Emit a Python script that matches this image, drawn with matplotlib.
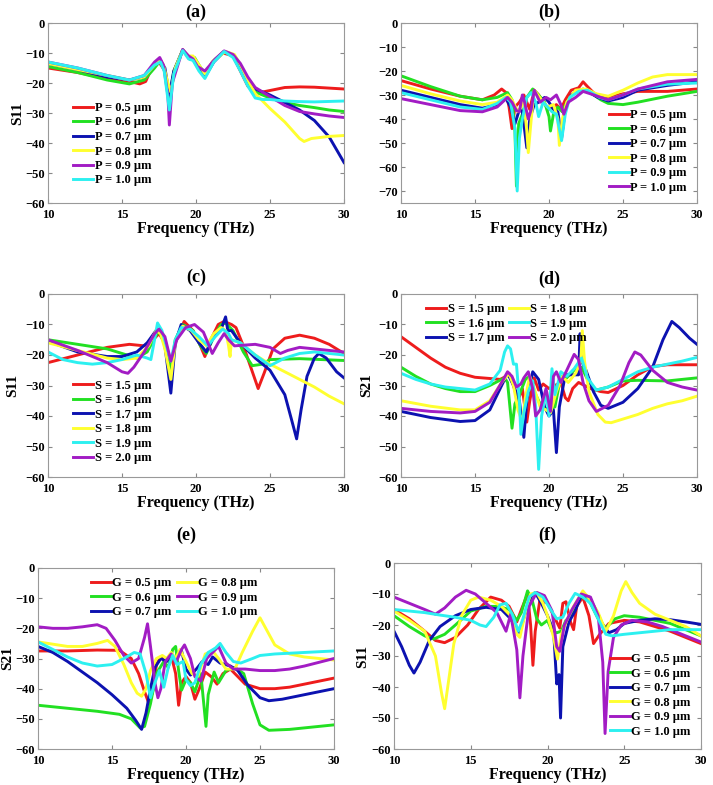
import matplotlib
matplotlib.use("Agg")
import matplotlib.pyplot as plt

plt.rcParams["font.family"] = ["Liberation Serif", "DejaVu Serif"]
plt.rcParams["font.weight"] = "bold"

# ---------------------------------------------------------------------------
# 데이터 (주파수 THz, dB) : 그림에서 눈으로 읽은 값
# ---------------------------------------------------------------------------

# (a) S11, P sweep
A_P05 = [(10, -15), (12, -16.5), (14, -18.5), (15.5, -19.5), (16.2, -20.3), (16.6, -19.5), (17, -15),
         (17.5, -13), (17.9, -16), (18.2, -25), (18.5, -17), (19.1, -9), (19.5, -11.5), (19.8, -12),
         (20.1, -14), (20.6, -17), (21.1, -13), (21.8, -10), (22.2, -10.5), (22.5, -11), (23, -16),
         (23.5, -21), (24, -23.5), (25, -22.5), (26, -21.5), (27, -21.3), (28, -21.4), (29, -21.7), (30, -22)]
A_P06 = [(10, -14.5), (12, -16.5), (14, -19), (15.5, -20.3), (16.5, -19), (17.2, -15), (17.6, -12.5),
         (17.9, -16), (18.2, -25), (18.5, -16), (19.1, -9), (19.6, -12), (19.9, -11.5), (20.2, -14),
         (20.6, -17), (21.2, -12.5), (21.9, -9.5), (22.5, -11), (23, -15), (23.5, -20), (24, -23),
         (25, -25), (26, -26.5), (27, -27.5), (28, -28.2), (29, -29), (30, -29.5)]
A_P07 = [(10, -13.5), (12, -15.5), (14, -18), (15.5, -19), (16.5, -18), (17.2, -14), (17.6, -12.5),
         (17.9, -15), (18.2, -24), (18.5, -16), (19.1, -9), (19.6, -12), (19.9, -12), (20.2, -15),
         (20.6, -18), (21.2, -13), (21.9, -9.5), (22.5, -11), (23, -15), (23.5, -19), (24, -22),
         (25, -24), (26, -26.5), (27, -29), (28, -32.5), (29, -38), (30, -46.5)]
A_P08 = [(10, -13.5), (12, -15.5), (14, -17.5), (15.5, -19), (16.5, -18), (17.2, -14), (17.6, -12.5),
         (17.8, -14), (18.1, -20), (18.3, -23), (18.6, -15), (19.1, -9), (19.5, -11), (19.8, -11),
         (20.2, -14), (20.6, -17), (21.2, -12.5), (22, -9.5), (22.6, -10.5), (23, -14), (23.5, -19),
         (24, -23.5), (24.5, -26), (25, -28.5), (26, -33), (27, -38.5), (27.3, -39.5), (27.8, -38.5),
         (29, -37.8), (30, -37.5)]
A_P09 = [(10, -13), (12, -15), (14, -17.5), (15.5, -19), (16.5, -17.5), (17.2, -13), (17.55, -11.5),
         (17.8, -14), (18.1, -24), (18.2, -34), (18.4, -20), (19.1, -8.8), (19.5, -11), (19.8, -12),
         (20.1, -14.5), (20.6, -16), (21.3, -12), (21.9, -9.3), (22.5, -10.5), (23, -13.5), (23.5, -18),
         (24, -21.5), (25, -24.5), (26, -27.5), (27, -29.5), (28, -30.3), (29, -31), (30, -31.5)]
A_P10 = [(10, -13), (12, -15), (14, -17.5), (15.5, -19), (16.5, -17.5), (17.2, -14), (17.6, -13),
         (17.85, -16), (18.2, -29), (18.5, -17), (19.1, -9.2), (19.5, -12), (19.8, -12.5), (20.2, -16),
         (20.6, -18.5), (21.2, -13), (21.9, -9.5), (22.5, -11.5), (23, -16), (23.5, -21), (24, -25),
         (24.5, -25.5), (25, -25.5), (26, -26), (27, -26.2), (28, -26.3), (30, -26)]

# (b) S11, P sweep
B_P05 = [(10, -24), (12, -27.5), (14, -30.5), (15.5, -32), (16.3, -30), (16.8, -27.5), (17.1, -29),
         (17.3, -35), (17.5, -44), (17.7, -35), (18, -33), (18.3, -30), (18.7, -36), (19, -28),
         (19.3, -30), (19.6, -33), (20, -36), (20.5, -34), (20.8, -36), (21.1, -32), (21.5, -28),
         (22, -27), (22.3, -24.5), (22.6, -26.5), (23, -29), (23.5, -31), (24, -31), (25, -29.5),
         (26, -28.5), (28, -28.5), (30, -27.5)]
B_P06 = [(10, -22), (12, -26.5), (14, -30.5), (15.5, -32), (16.5, -31), (17.2, -29), (17.5, -32),
         (17.7, -45), (17.8, -68), (17.95, -42), (18.2, -38), (18.5, -31), (18.9, -27.5), (19.3, -30),
         (19.7, -33), (20, -39), (20.1, -45), (20.3, -38), (20.6, -35), (20.9, -37), (21.2, -33),
         (21.7, -29), (22.3, -27.5), (22.8, -29), (23.5, -32), (24, -33.5), (25, -34), (26, -33),
         (28, -30.5), (30, -28.5)]
B_P07 = [(10, -28), (12, -31), (14, -34), (15.5, -35.5), (16.5, -34), (17.1, -31.5), (17.4, -35),
         (17.7, -42), (18, -36), (18.2, -37), (18.5, -52), (18.7, -40), (19, -34), (19.3, -33),
         (19.7, -31), (20, -33), (20.3, -36), (20.6, -37), (20.85, -48), (21.1, -36), (21.5, -30),
         (22, -28.5), (22.6, -28.5), (23.3, -31), (24, -32.5), (25, -31), (26, -28), (28, -26), (30, -24.5)]
B_P08 = [(10, -26), (12, -29.5), (14, -32.5), (15.5, -34), (16.5, -33), (17.2, -30), (17.5, -32),
         (17.9, -37), (18.3, -33), (18.5, -45), (18.6, -54), (18.8, -40), (19, -28), (19.5, -32),
         (19.9, -35), (20.3, -34), (20.6, -40), (20.7, -51), (20.9, -40), (21.2, -33), (21.8, -28),
         (22.5, -27.5), (23.2, -29.5), (24, -30.5), (25, -28), (26, -25), (27, -22.5), (28, -21.5), (30, -21.5)]
B_P09 = [(10, -29), (12, -32), (14, -35), (15.5, -36), (16.5, -33.5), (17.1, -31), (17.4, -33),
         (17.7, -44), (17.85, -70), (18, -48), (18.2, -40), (18.5, -31), (18.8, -29), (19.1, -33),
         (19.3, -39), (19.6, -33), (19.9, -35), (20.2, -37), (20.5, -38), (20.85, -49), (21.1, -38),
         (21.4, -31), (22, -28.5), (22.6, -28), (23.4, -31), (24, -32), (25, -30), (26, -27.5),
         (28, -25.5), (30, -25)]
B_P10 = [(10, -31.5), (12, -34), (14, -36.5), (15.5, -37), (16.5, -35), (17.2, -31), (17.5, -33),
         (17.8, -36.5), (18, -37), (18.2, -30), (18.35, -33), (18.6, -40), (18.8, -36), (19, -28),
         (19.4, -33), (19.8, -31), (20.1, -32), (20.5, -30), (20.8, -34), (21, -38), (21.3, -33),
         (21.8, -31), (22.3, -28.5), (22.8, -29.5), (23.5, -31), (24, -32), (25, -30), (26, -27.5),
         (28, -24.5), (30, -23.5)]

# (c) S11, S sweep
C_S15 = [(10, -22.5), (12, -20), (14, -17.5), (15.5, -16.5), (16.5, -17), (17, -15.5), (17.5, -13),
         (17.9, -16), (18.3, -26), (18.6, -16), (19.2, -9), (19.8, -12), (20.3, -17), (20.6, -20.5),
         (21, -15), (21.5, -10), (21.9, -9), (22.4, -10), (22.7, -11), (23.2, -17), (23.7, -24),
         (24.2, -31), (24.6, -26), (25.2, -18), (26, -14.5), (27, -13.5), (28, -14.5), (29, -16.5), (30, -19.5)]
C_S16 = [(10, -15), (12, -16.5), (14, -18), (15, -19.5), (16, -21), (16.7, -19), (17.2, -14.5),
         (17.5, -12), (17.9, -15), (18.3, -25), (18.6, -15), (19.1, -10), (19.8, -12), (20.3, -17),
         (20.7, -19.5), (21.2, -14), (21.7, -10), (22, -9.5), (22.5, -12), (23.2, -19), (23.8, -23.5),
         (24.5, -23), (25, -21.5), (27, -21.2), (30, -21.8)]
C_S17 = [(10, -15.5), (12, -19), (14, -20.5), (15, -20.5), (16, -19), (16.7, -16), (17.3, -12),
         (17.6, -12.5), (17.9, -17), (18.3, -32.5), (18.6, -16), (19, -10), (19.6, -12), (20.2, -16),
         (20.7, -19), (21.2, -14), (21.7, -11.5), (22, -7.5), (22.15, -12), (22.4, -12), (23, -16),
         (24, -21), (25, -25), (26, -33), (26.5, -42), (26.8, -47.5), (27.1, -38), (27.5, -27),
         (28, -21), (28.3, -19.5), (28.8, -21), (29.5, -25.5), (30, -27.5)]
C_S18 = [(10, -16), (12, -18.5), (14, -21), (15, -21.5), (16, -21), (16.8, -17), (17.3, -12),
         (17.6, -13), (17.9, -18), (18.3, -28), (18.6, -16), (19.1, -10.5), (19.7, -12), (20.2, -15),
         (20.7, -17), (21.2, -13), (21.7, -11), (22, -12), (22.2, -17), (22.3, -20.5), (22.4, -15),
         (23, -16), (24, -20), (25, -23), (26, -25.5), (27, -28), (28, -30.5), (29, -33.5), (30, -36)]
C_S19 = [(10, -19), (11, -21.5), (12, -22.5), (13, -23), (14, -22.5), (15, -21.5), (16, -20),
         (16.7, -21), (16.95, -21.5), (17.2, -15), (17.4, -9.5), (17.7, -12), (18, -17), (18.3, -22),
         (18.6, -15), (19, -11), (19.6, -11.5), (20.2, -14), (20.8, -17), (21.3, -14), (21.8, -11.5),
         (22.2, -13), (22.4, -15), (23, -16), (24, -20), (25, -23.5), (26, -21), (27, -19.5),
         (28, -19), (29, -19.5), (30, -20)]
C_S20 = [(10, -15), (12, -18.5), (14, -22.5), (15, -25.5), (15.4, -26), (15.8, -24), (16.5, -19),
         (17.2, -13), (17.5, -11.5), (17.9, -14), (18.3, -22), (18.7, -15), (19.3, -11), (19.9, -10),
         (20.5, -12.5), (21.1, -19.5), (21.5, -16), (21.9, -13), (22.2, -15), (22.6, -17), (24, -16.5),
         (25, -17.5), (25.7, -19.5), (26.2, -18.5), (27, -17.5), (28, -18), (30, -19)]

# (d) S21, S sweep
D_S15 = [(10, -14), (11, -17.5), (12, -21), (13, -24), (14, -26), (15, -27.3), (16, -27.7),
         (16.7, -28), (17.1, -27), (17.3, -26), (17.6, -30), (17.9, -35), (18.2, -31), (18.5, -42),
         (18.7, -35), (19, -27.5), (19.3, -31.5), (19.6, -29.5), (20, -31), (20.4, -30), (20.8, -29),
         (21.1, -34), (21.3, -35), (21.6, -31), (22, -29), (22.4, -30), (22.8, -31), (23.5, -32),
         (24, -32.3), (25, -30), (26, -26.5), (27, -23.8), (28, -23.2), (29, -23.2), (30, -23.2)]
D_S16 = [(10, -24), (11, -27), (12, -29.5), (13, -31), (14, -32), (15, -32), (16, -30), (16.6, -28.5),
         (17, -27.5), (17.2, -29), (17.5, -44), (17.7, -36), (18, -33), (18.4, -28), (18.7, -27),
         (19, -32), (19.5, -37), (20, -38), (20.4, -37), (20.8, -27), (21.2, -27.5), (21.7, -25),
         (22.2, -24), (22.7, -29), (23.2, -31.5), (24, -30.5), (25, -28.5), (26, -28.3), (28, -28.5), (30, -27.5)]
D_S17 = [(10, -38.5), (12, -40.5), (14, -41.8), (15, -41.5), (16, -38), (16.7, -31), (17.2, -26),
         (17.6, -30), (18, -35), (18.3, -47), (18.5, -35), (18.9, -25.5), (19.3, -28), (19.7, -37),
         (20, -40), (20.3, -38), (20.5, -52), (20.7, -37), (21.1, -26.5), (21.6, -26.5), (22, -26.5),
         (22.1, -13), (22.2, -22), (22.5, -25), (23, -32), (23.5, -36.5), (24, -37.5), (25, -35.5),
         (26, -31), (27, -24), (27.7, -15), (28.3, -9), (28.8, -11), (29.5, -14.5), (30, -16.5)]
D_S18 = [(10, -35), (12, -36.8), (14, -38), (15, -38), (16, -35), (16.8, -29), (17.3, -26),
         (17.6, -30), (17.9, -38), (18.2, -42), (18.4, -34), (18.7, -27), (19, -31), (19.4, -37),
         (19.8, -38), (20.1, -39), (20.5, -32), (20.9, -27), (21.3, -29), (21.8, -26), (22.15, -22),
         (22.25, -12), (22.4, -22), (22.7, -32), (23.3, -39.5), (23.8, -42), (24.2, -42.2), (25, -41),
         (26, -39.5), (27, -37.5), (28, -36), (29, -35), (30, -33.5)]
D_S19 = [(10, -26), (11, -28), (12, -29.5), (13, -30.5), (14, -31), (15, -31.5), (16, -29.5),
         (16.7, -25), (17, -19), (17.2, -17), (17.4, -18), (17.6, -23), (17.8, -23), (18, -35),
         (18.1, -46), (18.3, -39), (18.6, -32), (18.9, -28.5), (19.1, -37), (19.3, -57.5), (19.5, -40),
         (19.8, -32), (20, -40), (20.2, -24.5), (20.4, -33), (20.8, -25.5), (21.2, -27), (21.7, -24.5),
         (22.2, -21), (22.6, -27.5), (23.2, -31.5), (24, -30.5), (25, -28), (26, -25.5), (27, -24),
         (28, -23), (29, -22), (30, -20.8)]
D_S20 = [(10, -37.5), (12, -38.5), (14, -39), (15, -38.5), (16, -35.5), (16.8, -29), (17.2, -25.5),
         (17.5, -27), (17.8, -30.5), (18.1, -29.5), (18.3, -27.5), (18.6, -25.5), (18.9, -31),
         (19.1, -40), (19.4, -38), (19.8, -31), (20.1, -38.5), (20.3, -27), (20.5, -25.5), (20.8, -29),
         (21.2, -25), (21.7, -19.8), (22, -21.5), (22.3, -29), (22.7, -35), (23.2, -38.5), (24, -36.5),
         (24.8, -30), (25.4, -22.5), (25.8, -19), (26.2, -20), (27, -25), (28, -29), (29, -30.5), (30, -31.5)]

# (e) S21, G sweep
E_G05 = [(10, -27.5), (12, -27.5), (14, -27.2), (15.5, -27.3), (16.3, -30), (16.8, -35), (17.2, -41),
         (17.5, -45), (17.8, -40), (18, -32), (18.3, -29.5), (18.6, -31), (19, -29), (19.3, -35),
         (19.5, -45.5), (19.7, -38), (20, -36), (20.3, -38), (20.6, -43.5), (20.9, -40), (21.3, -34.5),
         (21.7, -36), (22.1, -38.5), (22.5, -35), (23, -33.5), (23.5, -36), (24, -38.5), (25, -40),
         (26, -40), (27, -39.5), (28, -38.5), (29, -37.5), (30, -36.5)]
E_G06 = [(10, -45.5), (12, -46.5), (14, -47.5), (15.5, -48.5), (16.3, -50), (16.9, -53), (17.2, -52.5),
         (17.6, -45), (18, -35), (18.5, -31), (18.8, -33), (19.1, -27), (19.3, -26), (19.5, -34),
         (19.7, -40.5), (20, -37), (20.3, -38), (20.6, -41), (21, -35), (21.2, -45), (21.35, -52.5),
         (21.5, -42), (21.9, -34.5), (22.2, -38), (22.7, -34), (23.3, -33), (23.9, -35), (24.5, -45),
         (25, -52), (25.6, -53.8), (27, -53.5), (28, -53), (30, -52)]
E_G07 = [(10, -26), (11, -28), (12, -31), (13, -34.5), (14, -38), (15, -42), (16, -46.5), (16.6, -50.5),
         (17, -53.5), (17.3, -48), (17.6, -40), (17.9, -33), (18.3, -30), (18.7, -31), (19, -28.5),
         (19.3, -30.5), (19.7, -27.5), (20, -33.5), (20.3, -35.5), (20.7, -33.5), (21.1, -31), (21.5, -32),
         (21.8, -29.5), (22.3, -31.5), (23, -32.5), (23.5, -34), (24.2, -39), (25, -43), (25.6, -44),
         (26.5, -43.5), (28, -42), (30, -40)]
E_G08 = [(10, -24.5), (12, -26), (13, -26), (14, -25), (14.7, -24), (15.2, -26), (15.8, -32),
         (16.3, -38), (16.7, -41.5), (17, -42.5), (17.3, -40), (17.6, -34), (18, -30), (18.4, -29),
         (18.7, -30), (19, -28), (19.3, -30), (19.6, -27), (20, -31), (20.4, -35), (20.8, -36),
         (21.3, -28.5), (21.8, -27.5), (22.2, -30), (22.7, -33.5), (23.3, -33.5), (23.8, -28), (24.5, -21),
         (25, -16.5), (25.5, -21), (26, -25.5), (27, -28.5), (28, -29.5), (30, -30.5)]
E_G09 = [(10, -19.5), (11, -20), (12, -20), (13, -19.5), (14, -18.8), (14.6, -20), (15.2, -24),
         (15.8, -29), (16.3, -31.5), (16.8, -30), (17.2, -23), (17.4, -18.5), (17.6, -26), (17.9, -38),
         (18.1, -43), (18.3, -40), (18.6, -31), (19, -28.5), (19.3, -31.5), (19.7, -27), (19.9, -25.5),
         (20.3, -30), (20.6, -36), (21, -37.5), (21.4, -30), (21.8, -28), (22.2, -26), (22.7, -31.5),
         (23.2, -33.5), (24, -33.5), (25, -34), (26, -34), (27, -33.5), (28, -32.5), (30, -30)]
E_G10 = [(10, -24.5), (11, -27), (12, -29.5), (13, -31.5), (14, -32.5), (15, -32), (15.8, -30),
         (16.5, -28), (16.9, -28.5), (17.3, -35), (17.6, -43), (17.9, -38), (18.2, -34), (18.5, -39.5),
         (18.8, -33), (19.1, -29), (19.4, -32), (19.8, -31), (20, -37), (20.3, -39), (20.6, -38),
         (21, -32), (21.5, -28), (22, -26.5), (22.3, -25), (22.7, -28), (23.2, -31), (23.7, -31.5),
         (24.5, -30), (25, -29), (26, -28.5), (28, -28), (30, -27.5)]

# (f) S11, G sweep
F_G05 = [(10, -15), (11, -18), (12, -22), (12.7, -25), (13.3, -25.7), (14, -24), (14.8, -20),
         (15.5, -15), (16.3, -11), (17, -12), (17.5, -14), (18, -19), (18.3, -15), (18.7, -10),
         (18.9, -20), (19.05, -33), (19.2, -22), (19.5, -12), (20, -13), (20.5, -18), (20.8, -21),
         (21, -13), (21.2, -12.5), (21.5, -19), (21.7, -21.5), (21.9, -14), (22.3, -11), (22.7, -17),
         (23, -26), (23.4, -23), (24, -19.5), (25, -18.5), (26, -19), (27, -20.5), (28, -22), (29, -24), (30, -26)]
F_G06 = [(10, -17), (11, -20.5), (12, -23.5), (12.6, -24.5), (13.3, -23), (14, -20), (15, -15.5),
         (16, -14), (16.8, -14), (17.5, -15), (18, -18.5), (18.3, -16), (18.7, -9), (19, -12),
         (19.3, -18), (19.6, -20), (20, -18.5), (20.3, -22), (20.6, -22.5), (20.9, -22), (21.2, -18.5),
         (21.6, -17), (22, -12), (22.4, -10.5), (22.8, -13), (23.3, -18), (23.8, -21), (24.4, -18),
         (25, -17), (26, -17.5), (27, -18.5), (28, -19.5), (29, -21.5), (30, -23.5)]
F_G07 = [(10, -22), (10.5, -27), (11, -33), (11.3, -35.5), (11.7, -32), (12.3, -25), (13, -20.5),
         (14, -17), (15, -15), (16, -14.3), (17, -15), (17.6, -18), (18, -21.5), (18.2, -22.5),
         (18.5, -17), (18.9, -11), (19.2, -9.5), (19.6, -13), (20, -17), (20.4, -22), (20.6, -39),
         (20.75, -36), (20.85, -50), (21, -27), (21.4, -19), (21.8, -15.5), (22.2, -10.5), (22.7, -11),
         (23.2, -15.5), (23.6, -20), (24, -22.5), (24.5, -21.5), (25, -19.5), (26, -18.5), (27, -18),
         (28, -18.3), (29, -19), (30, -19.8)]
F_G08 = [(10, -15.5), (11, -18.5), (12, -22), (12.7, -30), (13.1, -42), (13.3, -47), (13.5, -40),
         (13.9, -26), (14.4, -17), (15, -12), (15.5, -11), (16.3, -12), (17, -14), (17.6, -17), (18, -23),
         (18.2, -24), (18.6, -15), (18.9, -10), (19.3, -9.5), (19.7, -13), (20, -17), (20.4, -24),
         (20.65, -31), (20.9, -23), (21.3, -18), (21.7, -14), (22.3, -9), (22.8, -12), (23.3, -16),
         (23.8, -22), (24.3, -17), (24.8, -9), (25.1, -6), (25.5, -9.5), (26, -13), (27, -16.5),
         (28, -18.5), (29, -20.5), (30, -23.5)]
F_G09 = [(10, -11), (11, -13), (12, -15), (12.7, -16.5), (13.3, -14.5), (14, -11), (14.7, -8.8),
         (15.3, -10), (16, -13), (16.7, -16), (17.1, -20), (17.3, -22), (17.6, -16.5), (18, -28),
         (18.2, -43.5), (18.4, -30), (18.8, -14), (19.3, -9.5), (19.8, -10.5), (20.3, -15.5), (20.6, -27),
         (20.8, -28.5), (21.1, -20), (21.6, -15), (22.2, -10), (22.8, -11), (23.3, -17), (23.6, -32),
         (23.75, -55), (23.95, -35), (24.3, -24), (24.8, -20), (25.5, -18.5), (26.5, -19), (27.5, -20.5),
         (28.5, -22.5), (30, -25.5)]
F_G10 = [(10, -15), (11, -15.5), (12, -16), (13, -16.8), (14, -17.5), (15, -18.5), (15.6, -20),
         (16, -20.5), (16.5, -17.5), (16.9, -13.5), (17.3, -13), (17.7, -16.5), (18.1, -22), (18.4, -18),
         (18.8, -11), (19.2, -9.5), (19.7, -11), (20.2, -15), (20.6, -18), (21, -17.5), (21.4, -13),
         (21.8, -9.8), (22.3, -11), (22.8, -13), (23.3, -18), (23.8, -23), (24.2, -23.5), (25, -23),
         (26, -22.5), (27, -22), (28, -21.5), (30, -21.5)]

P_LABELS = ["P = 0.5 µm", "P = 0.6 µm", "P = 0.7 µm", "P = 0.8 µm", "P = 0.9 µm", "P = 1.0 µm"]
S_LABELS = ["S = 1.5 µm", "S = 1.6 µm", "S = 1.7 µm", "S = 1.8 µm", "S = 1.9 µm", "S = 2.0 µm"]
G_LABELS = ["G = 0.5 µm", "G = 0.6 µm", "G = 0.7 µm", "G = 0.8 µm", "G = 0.9 µm", "G = 1.0 µm"]

RED, GREEN, BLUE = "#ee1c1c", "#22e022", "#0c12b0"
YELLOW, PURPLE, CYAN = "#ffff30", "#a21cc4", "#2cf0f0"

# ---------------------------------------------------------------------------
# 그리기
# ---------------------------------------------------------------------------

W, H = 713, 785
fig = plt.figure(figsize=(W / 100, H / 100), dpi=100)


def make_axes(left, right, top, bottom):
    """픽셀 좌표로 축을 만든다."""
    return fig.add_axes([left / W, 1 - bottom / H, (right - left) / W, (bottom - top) / H])


def panel(ax, curves, labels, colors, title, ylabel, ymin, legend_kw):
    for pts, lab, col in zip(curves, labels, colors):
        f, v = zip(*pts)
        ax.plot(f, v, color=col, lw=2.1, label=lab)
    ax.set_xlim(10, 30)
    ax.set_ylim(ymin, 0)
    ax.set_xticks([10, 15, 20, 25, 30])
    ax.set_yticks(list(range(0, -71 if ymin < -60 else -61, -10)))
    ax.tick_params(direction="in", top=True, right=True, labelsize=9, length=3,
                   color="#888888")
    ax.tick_params(axis="x", pad=4)
    ax.tick_params(axis="y", pad=2.5)
    for sp in ax.spines.values():
        sp.set_color("#999999")
        sp.set_linewidth(0.8)
    for t in ax.get_xticklabels() + ax.get_yticklabels():
        t.set_fontweight("bold")
    ax.set_xlabel("Frequency (THz)", fontsize=11.5, fontweight="bold", labelpad=0)
    if ylabel:
        # ylabel[1] : 라벨 오른쪽 끝의 figure 픽셀 x 좌표
        ax.set_ylabel(ylabel[0], fontsize=11, fontweight="bold")
        bb = ax.get_position()
        ax.yaxis.set_label_coords((ylabel[1] / W - bb.x0) / bb.width, 0.5)
    ax.legend(frameon=False, prop={"weight": "bold", "size": 9}, handlelength=1.6,
              handletextpad=0.1, labelspacing=0.2, borderaxespad=0.2, **legend_kw)
    bb = ax.get_position()
    fig.text(bb.x0 + bb.width / 2, title[1], title[0], ha="center", va="center",
             fontsize=13, fontweight="bold")


ax_a = make_axes(48, 344, 23, 203)
panel(ax_a, [A_P05, A_P06, A_P07, A_P08, A_P09, A_P10], P_LABELS,
      [RED, GREEN, BLUE, YELLOW, PURPLE, CYAN], ("(a)", 1 - 12 / H), ("S11", 24), -60,
      dict(loc="lower left", bbox_to_anchor=(0.06, 0.05)))

ax_b = make_axes(401, 697, 23, 203)
panel(ax_b, [B_P05, B_P06, B_P07, B_P08, B_P09, B_P10], P_LABELS,
      [RED, GREEN, BLUE, YELLOW, CYAN, PURPLE], ("(b)", 1 - 12 / H), None, -75,
      dict(loc="lower right", bbox_to_anchor=(0.99, 0.01)))

ax_c = make_axes(48, 344, 294, 477)
panel(ax_c, [C_S15, C_S16, C_S17, C_S18, C_S19, C_S20], S_LABELS,
      [RED, GREEN, BLUE, YELLOW, CYAN, PURPLE], ("(c)", 1 - 277 / H), ("S11", 19), -60,
      dict(loc="lower left", bbox_to_anchor=(0.06, 0.03)))

ax_d = make_axes(401, 697, 294, 477)
panel(ax_d, [D_S15, D_S16, D_S17, D_S18, D_S19, D_S20], S_LABELS,
      [RED, GREEN, BLUE, YELLOW, CYAN, PURPLE], ("(d)", 1 - 279 / H), ("S21", 373), -60,
      dict(loc="upper left", bbox_to_anchor=(0.06, 0.99), ncol=2, columnspacing=0.4))

ax_e = make_axes(38, 334, 568, 749)
panel(ax_e, [E_G05, E_G06, E_G07, E_G08, E_G09, E_G10], G_LABELS,
      [RED, GREEN, BLUE, YELLOW, PURPLE, CYAN], ("(e)", 1 - 535 / H), ("S21", 14), -60,
      dict(loc="upper center", bbox_to_anchor=(0.46, 0.99), ncol=2, columnspacing=0.4))

ax_f = make_axes(394, 701, 563, 749)
panel(ax_f, [F_G05, F_G06, F_G07, F_G08, F_G09, F_G10], G_LABELS,
      [RED, GREEN, BLUE, YELLOW, PURPLE, CYAN], ("(f)", 1 - 535 / H), ("S11", 369), -60,
      dict(loc="lower right", bbox_to_anchor=(0.99, 0.02)))

fig.savefig("out.png", dpi=100)
